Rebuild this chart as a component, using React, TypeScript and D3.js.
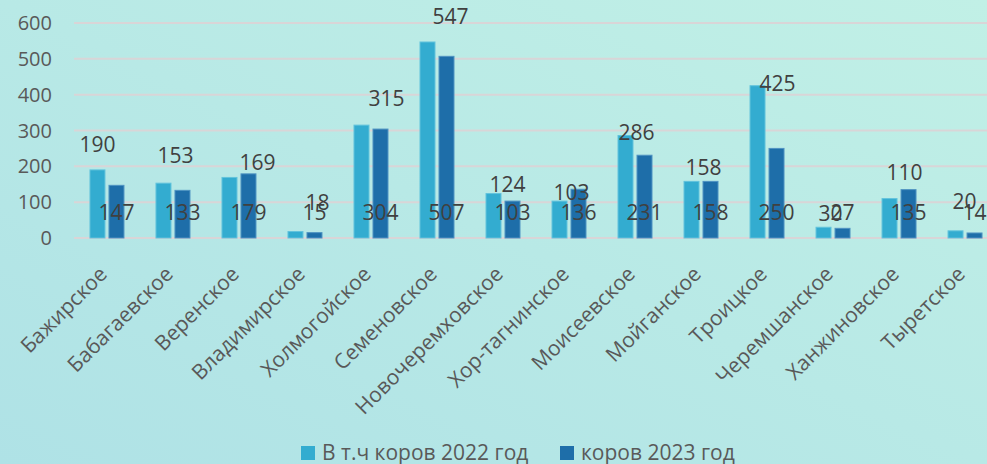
import React, { useEffect, useRef } from "react";
import * as d3 from "d3";

const categories = [
  "Бажирское",
  "Бабагаевское",
  "Веренское",
  "Владимирское",
  "Холмогойское",
  "Семеновское",
  "Новочеремховское",
  "Хор-тагнинское",
  "Моисеевское",
  "Мойганское",
  "Троицкое",
  "Черемшанское",
  "Ханжиновское",
  "Тыретское",
];
const cows2022 = [190, 153, 169, 18, 315, 547, 124, 103, 286, 158, 425, 30, 110, 20];
const cows2023 = [147, 133, 179, 15, 304, 507, 103, 136, 231, 158, 250, 27, 135, 14];
const yTicks = [0, 100, 200, 300, 400, 500, 600];
const seriesNames = ["В т.ч коров 2022 год", "коров 2023 год"];

// подписи 2022 года в оригинале сдвинуты вручную (dx от центра столбца, dy от вершины)
const labelNudge2022: [number, number][] = [
  [0, -25], [12, -28], [28, -15], [22, -29], [25, -26], [23, -25], [14, -9],
  [12, -8], [11, -3], [12, -14], [20, -2], [7, -14], [15, -26], [9, -29],
];

const App = () => {
  const svgRef = useRef<SVGSVGElement>(null);

  useEffect(() => {
    const width = 987;
    const height = 464;
    const svg = d3.select(svgRef.current);
    svg.selectAll("*").remove();

    const font = "'Open Sans', 'Noto Sans', sans-serif";

    // фон
    const defs = svg.append("defs");
    const grad = defs
      .append("linearGradient")
      .attr("id", "bg")
      .attr("x1", "0%")
      .attr("y1", "100%")
      .attr("x2", "100%")
      .attr("y2", "0%");
    grad.append("stop").attr("offset", "0%").attr("stop-color", "#afe2e6");
    grad.append("stop").attr("offset", "100%").attr("stop-color", "#c1f0e6");
    svg.append("rect").attr("width", width).attr("height", height).attr("fill", "url(#bg)");

    const x0 = 74;
    const band = 66;
    const x = d3
      .scaleBand()
      .domain(categories)
      .range([x0, x0 + band * categories.length])
      .paddingInner(0.485)
      .paddingOuter(0.242);
    const xs = d3.scaleBand().domain(["a", "b"]).range([0, x.bandwidth()]).paddingInner(0.211);
    const y = d3.scaleLinear().domain([0, 600]).range([238, 23]);

    // сетка
    svg
      .append("g")
      .selectAll("line")
      .data(yTicks)
      .enter()
      .append("line")
      .attr("x1", x0)
      .attr("x2", width)
      .attr("y1", (d) => y(d))
      .attr("y2", (d) => y(d))
      .attr("stroke", "#d9d5d7")
      .attr("stroke-width", 2);

    // подписи оси Y
    svg
      .append("g")
      .selectAll("text")
      .data(yTicks)
      .enter()
      .append("text")
      .attr("x", 52)
      .attr("y", (d) => y(d))
      .attr("dy", "0.35em")
      .attr("text-anchor", "end")
      .attr("fill", "#595959")
      .style("font-family", font)
      .style("font-size", "20px")
      .text((d) => d);

    const colors = ["#33acd0", "#1e6ea9"];
    const strokes = ["#62c3dc", "#4f93c2"];
    const series = [cows2022, cows2023];

    series.forEach((vals, si) => {
      svg
        .append("g")
        .selectAll("rect")
        .data(vals)
        .enter()
        .append("rect")
        .attr("x", (_, i) => (x(categories[i]) as number) + (xs(si === 0 ? "a" : "b") as number))
        .attr("y", (d) => y(d))
        .attr("width", xs.bandwidth())
        .attr("height", (d) => y(0) - y(d))
        .attr("fill", colors[si])
        .attr("stroke", strokes[si])
        .attr("stroke-width", 1);
    });

    // подписи данных 2022
    svg
      .append("g")
      .selectAll("text")
      .data(cows2022)
      .enter()
      .append("text")
      .attr("x", (_, i) => (x(categories[i]) as number) + (xs("a") as number) + xs.bandwidth() / 2 + labelNudge2022[i][0])
      .attr("y", (d, i) => y(d) + labelNudge2022[i][1])
      .attr("dy", "0.35em")
      .attr("text-anchor", "middle")
      .attr("fill", "#404040")
      .style("font-family", font)
      .style("font-size", "21px")
      .text((d) => d);

    // подписи данных 2023 (у основания)
    svg
      .append("g")
      .selectAll("text")
      .data(cows2023)
      .enter()
      .append("text")
      .attr("x", (_, i) => (x(categories[i]) as number) + (xs("b") as number) + xs.bandwidth() / 2)
      .attr("y", y(0) - 25)
      .attr("dy", "0.35em")
      .attr("text-anchor", "middle")
      .attr("fill", "#404040")
      .style("font-family", font)
      .style("font-size", "21px")
      .text((d) => d);

    // подписи категорий
    svg
      .append("g")
      .selectAll("text")
      .data(categories)
      .enter()
      .append("text")
      .attr(
        "transform",
        (d) => `translate(${(x(d) as number) + x.bandwidth() / 2 - 9},${265}) rotate(-45)`
      )
      .attr("text-anchor", "end")
      .attr("dy", "0.7em")
      .attr("fill", "#595959")
      .style("font-family", font)
      .style("font-size", "21px")
      .text((d) => d);

    // легенда
    const legend = svg.append("g");
    const legendX = [301, 560];
    seriesNames.forEach((name, i) => {
      legend
        .append("rect")
        .attr("x", legendX[i])
        .attr("y", 446)
        .attr("width", 14)
        .attr("height", 14)
        .attr("fill", colors[i]);
      legend
        .append("text")
        .attr("x", legendX[i] + 21)
        .attr("y", 460)
        .attr("fill", "#595959")
        .style("font-family", font)
        .style("font-size", "21px")
        .text(name);
    });
  }, []);

  return (
    <svg
      ref={svgRef}
      width={987}
      height={464}
      style={{ position: "absolute", left: 0, top: 0, display: "block" }}
    ></svg>
  );
};

export default App;
